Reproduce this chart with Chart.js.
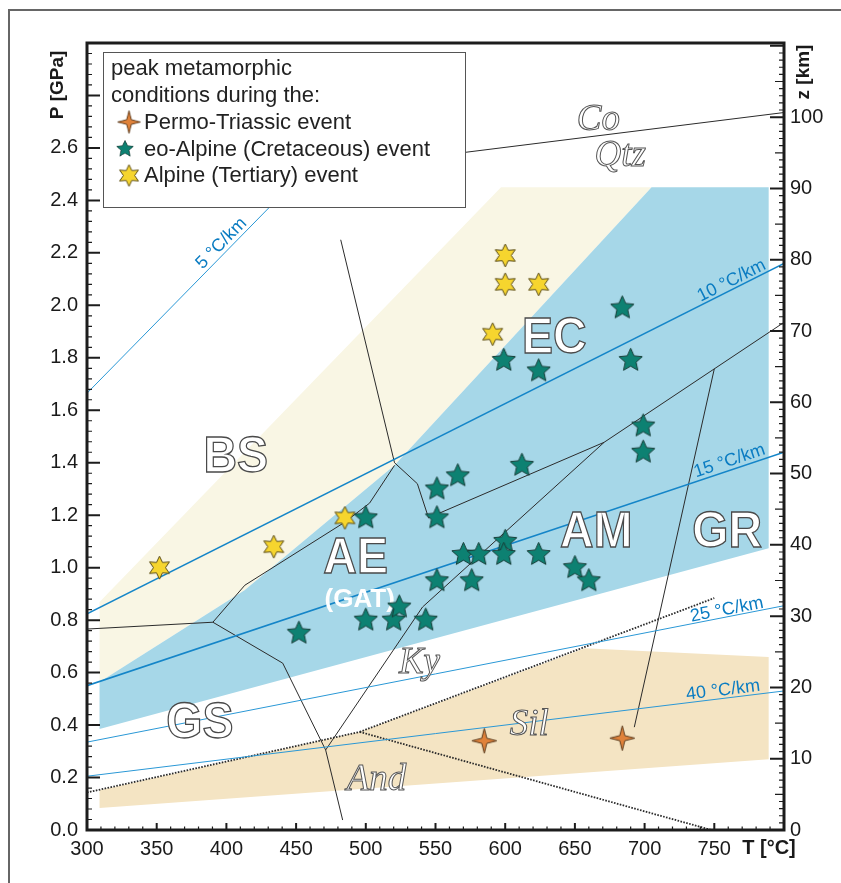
<!DOCTYPE html>
<html>
<head>
<meta charset="utf-8">
<script src="https://cdn.jsdelivr.net/npm/chart.js@4.4.0/dist/chart.umd.min.js"></script>
<style>
  body { margin: 0; background: #fff; }
  canvas { display: block; }
</style>
</head>
<body>
<canvas id="myChart" width="841" height="883"></canvas>
<script>
// axis ticks
const tTicks = [300, 350, 400, 450, 500, 550, 600, 650, 700, 750];
const pTicks = [0, 0.2, 0.4, 0.6, 0.8, 1.0, 1.2, 1.4, 1.6, 1.8, 2.0, 2.2, 2.4, 2.6];
const zTicks = [0, 10, 20, 30, 40, 50, 60, 70, 80, 90, 100];

// peak P-T estimates (T in °C, P in GPa)
const permoTriassic = [[585, 0.34], [684, 0.35]];
const eoAlpine = [
  [500, 1.19], [684, 1.99], [599, 1.79], [624, 1.75], [690, 1.79],
  [699, 1.54], [699, 1.44], [612, 1.39], [566, 1.35], [551, 1.30],
  [551, 1.19], [600, 1.10], [599, 1.05], [570, 1.05], [581, 1.05],
  [624, 1.05], [650, 1.00], [660, 0.95], [551, 0.95], [576, 0.95],
  [452, 0.75], [500, 0.80], [520, 0.80], [524, 0.85], [543, 0.80]
];
const alpine = [[352, 1.00], [434, 1.08], [485, 1.19], [600, 2.19], [600, 2.08], [624, 2.08], [591, 1.89]];

// shaded fields
const bsField = [[309, 0.869], [597, 2.45], [705, 2.45], [520.6, 1.39], [413, 0.914], [309, 0.564]];
const hpField = [[705, 2.45], [789, 2.45], [789, 1.074], [309, 0.385], [309, 0.564], [413, 0.914], [520.6, 1.39]];
const lpField = [[309, 0.152], [495.6, 0.374], [657, 0.693], [789, 0.659], [789, 0.270], [309, 0.084]];

// facies boundaries
const coQtz = [[571, 2.583], [800, 2.735]];
const bsEc = [[482, 2.25], [520.6, 1.40], [537, 1.32], [545, 1.19]];
const aeBs = [[300, 0.766], [390.3, 0.792], [413.2, 0.933], [484.8, 1.173], [502.7, 1.246], [520.6, 1.39]];
const amEc = [[545, 1.19], [671, 1.478], [800, 1.935]];
const grAm = [[750, 1.758], [692.6, 0.392]];
const gsAe = [[390.3, 0.792], [440.4, 0.636], [471.2, 0.305], [483.4, 0.038]];
const gsAm = [[471.2, 0.305], [540.7, 0.85], [671, 1.478]];

// Al2SiO5
const kyAnd = [[300, 0.143], [495.6, 0.374]];
const kySil = [[495.6, 0.374], [750, 0.884]];
const silAnd = [[495.6, 0.374], [748, 0.0]];

// geotherms
const geo5 = [[300, 1.665], [480, 2.64]];
const geo10 = [[300, 0.824], [800, 2.16]];
const geo15 = [[300, 0.55], [800, 1.44]];
const geo25 = [[300, 0.335], [800, 0.855]];
const geo40 = [[300, 0.205], [800, 0.53]];

const pts = a => a.map(([x, y]) => ({ x, y }));
const closed = a => pts(a.concat([a[0]]));

function starImage(n, rOut, rIn, fill, stroke) {
  const c = document.createElement('canvas');
  const s = Math.ceil(rOut * 2 + 4);
  c.width = c.height = s;
  const g = c.getContext('2d');
  g.translate(s / 2, s / 2);
  g.beginPath();
  for (let i = 0; i < 2 * n; i++) {
    const r = i % 2 ? rIn : rOut;
    const a = -Math.PI / 2 + i * Math.PI / n;
    g.lineTo(r * Math.cos(a), r * Math.sin(a));
  }
  g.closePath();
  g.fillStyle = fill;
  g.fill();
  g.lineWidth = 1;
  g.strokeStyle = stroke;
  g.stroke();
  return c;
}
const orangeStar = starImage(4, 12.5, 3.6, '#e0823a', '#5b3a1c');
const tealStar = starImage(5, 12.2, 5.7, '#0d8172', '#173d37');
const yellowStar = starImage(6, 11.5, 6.0, '#f6d52e', '#5a4c17');

const fieldLine = (data) => ({
  type: 'line', data: closed(data), fill: 'shape', borderWidth: 0,
  borderColor: 'rgba(0,0,0,0)', pointRadius: 0, tension: 0
});
const blackLine = (data, dash) => ({
  type: 'line', data: pts(data), fill: false, borderColor: '#2b2b2b',
  borderWidth: dash ? 1.8 : 1, borderDash: dash ? [1.6, 1.4] : [], pointRadius: 0, tension: 0, order: 6
});
const geoLine = (data, w) => ({
  type: 'line', data: pts(data), fill: false, borderColor: w > 1 ? '#1485c8' : '#2a98d6',
  borderWidth: w, pointRadius: 0, tension: 0, order: 5
});

const fieldLabels = [
  { text: 'BS', t: 406.7, p: 1.366 },
  { text: 'EC', t: 635.2, p: 1.817 },
  { text: 'AE', t: 492.7, p: 0.979 },
  { text: 'AM', t: 665.3, p: 1.078 },
  { text: 'GR', t: 759.2, p: 1.078 },
  { text: 'GS', t: 381, p: 0.350 }
];
const mineralLabels = [
  { text: 'Co', t: 666.8, p: 2.667 },
  { text: 'Qtz', t: 682.5, p: 2.533 },
  { text: 'Ky', t: 538.5, p: 0.598 },
  { text: 'Sil', t: 617.3, p: 0.362 },
  { text: 'And', t: 507.7, p: 0.152 }
];
const geoLabels = [
  { text: '5 °C/km', line: geo5, t: 401, off: 9 },
  { text: '10 °C/km', line: geo10, t: 765, off: 8 },
  { text: '15 °C/km', line: geo15, t: 763, off: 9 },
  { text: '25 °C/km', line: geo25, t: 760, off: 7 },
  { text: '40 °C/km', line: geo40, t: 757, off: 8 }
];

const SANS = '"Liberation Sans", Arial, sans-serif';
const SERIF = '"Liberation Serif", "DejaVu Serif", serif';

function drawLabels(chart) {
  const { ctx, scales: { x, y } } = chart;
  ctx.save();
  ctx.textAlign = 'center';
  ctx.textBaseline = 'alphabetic';
  ctx.font = 'bold 50px ' + SANS;
  fieldLabels.forEach(l => {
    ctx.save();
    ctx.translate(x.getPixelForValue(l.t), y.getPixelForValue(l.p));
    ctx.scale(0.93, 1);
    ctx.fillStyle = '#fff';
    ctx.fillText(l.text, 0, 0);
    ctx.lineWidth = 1.3;
    ctx.strokeStyle = '#4a4a4a';
    ctx.strokeText(l.text, 0, 0);
    ctx.restore();
  });
  ctx.font = 'bold 26px ' + SANS;
  ctx.fillStyle = '#fff';
  ctx.fillText('(GAT)', x.getPixelForValue(495.6), y.getPixelForValue(0.85));

  ctx.font = 'italic 37px ' + SERIF;
  mineralLabels.forEach(l => {
    const px = x.getPixelForValue(l.t), py = y.getPixelForValue(l.p);
    ctx.fillStyle = '#fff';
    ctx.fillText(l.text, px, py);
    ctx.lineWidth = 1;
    ctx.strokeStyle = '#555';
    ctx.strokeText(l.text, px, py);
  });

  ctx.font = '18px ' + SANS;
  ctx.fillStyle = '#0a7cc2';
  ctx.textBaseline = 'middle';
  geoLabels.forEach(l => {
    const [a, b] = l.line;
    const x0 = x.getPixelForValue(a[0]), y0 = y.getPixelForValue(a[1]);
    const x1 = x.getPixelForValue(b[0]), y1 = y.getPixelForValue(b[1]);
    const ang = Math.atan2(y1 - y0, x1 - x0);
    const f = (l.t - a[0]) / (b[0] - a[0]);
    const fx = x0 + f * (x1 - x0), fy = y0 + f * (y1 - y0);
    ctx.save();
    ctx.translate(fx + Math.sin(ang) * l.off, fy - Math.cos(ang) * l.off);
    ctx.rotate(ang);
    ctx.fillText(l.text, 0, 0);
    ctx.restore();
  });
  ctx.restore();
}

function drawLegend(chart) {
  const { ctx } = chart;
  ctx.save();
  ctx.fillStyle = '#fff';
  ctx.fillRect(103, 52, 362, 155);
  ctx.strokeStyle = '#555';
  ctx.lineWidth = 1;
  ctx.strokeRect(103.5, 52.5, 362, 155);
  ctx.fillStyle = '#222';
  ctx.font = '22px ' + SANS;
  ctx.textAlign = 'left';
  ctx.textBaseline = 'alphabetic';
  ctx.fillText('peak metamorphic', 111, 75);
  ctx.fillText('conditions during the:', 111, 101.5);
  const items = [
    [orangeStar, 'Permo-Triassic event', 129, 122, 128.5, 0.92],
    [tealStar, 'eo-Alpine (Cretaceous) event', 125, 149, 155.5, 0.72],
    [yellowStar, 'Alpine (Tertiary) event', 129, 175.5, 182, 0.95]
  ];
  items.forEach(([img, txt, cx, cy, base, k]) => {
    const w = img.width * k, h = img.height * k;
    ctx.drawImage(img, cx - w / 2, cy - h / 2, w, h);
    ctx.fillText(txt, 144, base);
  });
  ctx.restore();
}

function drawFrame(chart) {
  const { ctx, chartArea: a, scales: { x, y, y2 } } = chart;
  ctx.save();
  // outer figure frame
  ctx.strokeStyle = '#666';
  ctx.lineWidth = 2;
  ctx.beginPath();
  ctx.moveTo(9, 883); ctx.lineTo(9, 10); ctx.lineTo(841, 10);
  ctx.stroke();

  ctx.strokeStyle = '#1c1c1c';
  const tick = (major) => {
    ctx.lineWidth = major ? 2 : 1.2;
    ctx.beginPath();
    for (let v = 300; v <= 800; v += 10) {
      if ((v % 50 === 0) !== major) continue;
      const p = x.getPixelForValue(v);
      ctx.moveTo(p, a.bottom); ctx.lineTo(p, a.bottom - (major ? 7 : 3.5));
    }
    for (let i = 0; i <= 74; i++) {
      if ((i % 5 === 0) !== major) continue;
      const p = y.getPixelForValue(i * 0.04);
      ctx.moveTo(a.left, p); ctx.lineTo(a.left + (major ? 13 : 5), p);
    }
    for (let v = 0; v <= 110; v++) {
      if ((v % 10 === 0) !== major) continue;
      const p = y2.getPixelForValue(v);
      const len = major ? 14 : (v % 5 === 0 ? 9 : 5);
      ctx.moveTo(a.right, p); ctx.lineTo(a.right - len, p);
    }
    ctx.stroke();
  };
  tick(false);
  tick(true);
  ctx.lineWidth = 3;
  ctx.strokeRect(a.left, a.top, a.right - a.left, a.bottom - a.top);

  // axis titles
  ctx.fillStyle = '#1a1a1a';
  ctx.font = 'bold 19px ' + SANS;
  ctx.textAlign = 'center';
  ctx.textBaseline = 'middle';
  ctx.save();
  ctx.translate(58, 85);
  ctx.rotate(-Math.PI / 2);
  ctx.fillText('P [GPa]', 0, 0);
  ctx.restore();
  ctx.save();
  ctx.translate(804, 72);
  ctx.rotate(-Math.PI / 2);
  ctx.fillText('z [km]', 0, 0);
  ctx.restore();
  ctx.font = 'bold 20px ' + SANS;
  ctx.fillText('T [°C]', 769, 848);
  ctx.restore();
}

const pdiagram = {
  id: 'pdiagram',
  beforeDatasetDraw(chart, args) {
    if (chart.data.datasets[args.index].id === 'permo') drawLabels(chart);
  },
  afterDatasetsDraw(chart) { drawLegend(chart); },
  afterDraw(chart) { drawFrame(chart); }
};

const tickFont = { family: SANS, size: 20 };
const ctx = document.getElementById('myChart').getContext('2d');
const myChart = new Chart(ctx, {
  type: 'scatter',
  data: {
    datasets: [
      { id: 'permo', data: pts(permoTriassic), pointStyle: orangeStar, pointRadius: 10, order: 2 },
      { id: 'eo', data: pts(eoAlpine), pointStyle: tealStar, pointRadius: 10, order: 1 },
      { id: 'alp', data: pts(alpine), pointStyle: yellowStar, pointRadius: 10, order: 0 },
      geoLine(geo5, 1), geoLine(geo10, 1.6), geoLine(geo15, 1.6), geoLine(geo25, 1), geoLine(geo40, 1),
      blackLine(coQtz), blackLine(bsEc), blackLine(aeBs), blackLine(amEc), blackLine(grAm),
      blackLine(gsAe), blackLine(gsAm),
      blackLine(kyAnd, true), blackLine(kySil, true), blackLine(silAnd, true),
      Object.assign(fieldLine(lpField), { backgroundColor: '#f4e4c3', order: 20 }),
      Object.assign(fieldLine(hpField), { backgroundColor: '#a6d7e8', order: 21 }),
      Object.assign(fieldLine(bsField), { backgroundColor: '#f9f6e4', order: 22 })
    ]
  },
  options: {
    responsive: false,
    animation: false,
    events: [],
    layout: { padding: { top: 43, left: 0, right: 0, bottom: 0 } },
    plugins: { legend: { display: false }, tooltip: { enabled: false } },
    scales: {
      x: {
        type: 'linear', position: 'bottom', min: 300, max: 800,
        afterBuildTicks: s => { s.ticks = tTicks.map(v => ({ value: v })); },
        afterFit: s => { s.height = 53; },
        ticks: { font: tickFont, color: '#1a1a1a', padding: 7, maxRotation: 0, autoSkip: false },
        grid: { display: false, drawTicks: false },
        border: { display: false }
      },
      y: {
        type: 'linear', position: 'left', min: 0, max: 3.0,
        afterBuildTicks: s => { s.ticks = pTicks.map(v => ({ value: v })); },
        afterFit: s => { s.width = 87; },
        ticks: { font: tickFont, color: '#1a1a1a', padding: 9, autoSkip: false, callback: v => v.toFixed(1) },
        grid: { display: false, drawTicks: false },
        border: { display: false }
      },
      y2: {
        type: 'linear', position: 'right', min: 0, max: 110.4,
        afterBuildTicks: s => { s.ticks = zTicks.map(v => ({ value: v })); },
        afterFit: s => { s.width = 57; },
        ticks: { font: tickFont, color: '#1a1a1a', padding: 6, autoSkip: false },
        grid: { display: false, drawTicks: false },
        border: { display: false }
      }
    }
  },
  plugins: [pdiagram]
});
</script>
</body>
</html>
